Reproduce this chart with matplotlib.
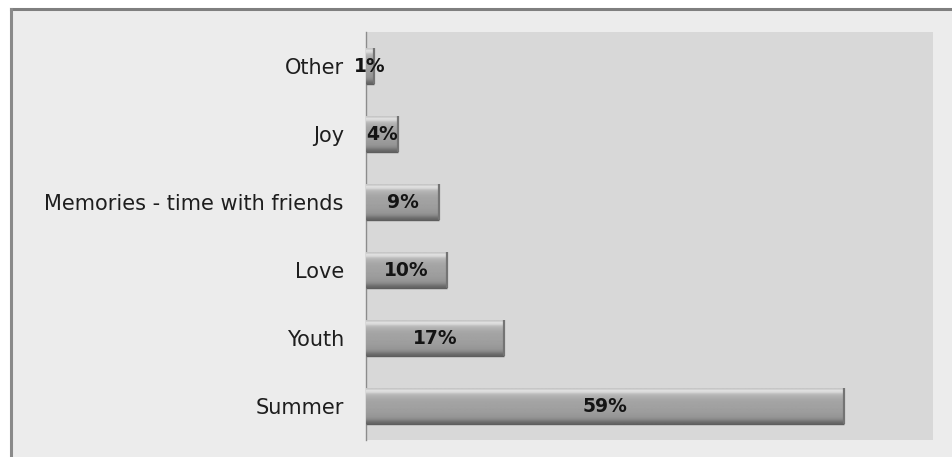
import matplotlib
matplotlib.use("Agg")
import matplotlib.pyplot as plt
import numpy as np
from matplotlib.lines import Line2D
from matplotlib.patches import Rectangle

categories = ["Summer", "Youth", "Love", "Memories - time with friends", "Joy", "Other"]
values = [59, 17, 10, 9, 4, 1]
labels = ["59%", "17%", "10%", "9%", "4%", "1%"]

W, H = 952, 457
fig = plt.figure(figsize=(W / 100, H / 100), dpi=100)
fig.patch.set_facecolor("white")

# outer frame (top and left border visible)
fig.add_artist(Rectangle((10.5 / W, 0), 1, 1 - 8.5 / H, transform=fig.transFigure,
                         facecolor="#ececec", edgecolor="none", zorder=-10))
fig.add_artist(Line2D([10.5 / W, 1], [1 - 8.5 / H, 1 - 8.5 / H], transform=fig.transFigure,
                      color="#7f7f7f", lw=2.2))
fig.add_artist(Line2D([11 / W, 11 / W], [0, 1 - 8.5 / H], transform=fig.transFigure,
                      color="#8a8a8a", lw=2.2))

left, right, top, bottom = 366, 933, 32, 440
ax = fig.add_axes([left / W, 1 - bottom / H, (right - left) / W, (bottom - top) / H])
ax.set_facecolor("#d8d8d8")

y = np.arange(len(categories))
bars = ax.barh(y, values, height=0.52, color="#9e9e9e", edgecolor="none", zorder=2)
ax.set_xlim(0, 70)
ax.set_ylim(-0.5, len(categories) - 0.5)

# bevel gradient for each bar (bottom -> top)
grad = np.array([0.40, 0.45, 0.52, 0.57, 0.59, 0.60, 0.61, 0.62, 0.62, 0.63,
                 0.63, 0.64, 0.64, 0.65, 0.66, 0.68, 0.70, 0.74, 0.84, 0.88, 0.78]).reshape(-1, 1)
for b in bars:
    x0, y0 = b.get_x(), b.get_y()
    w, h = b.get_width(), b.get_height()
    im = ax.imshow(grad, cmap="gray", vmin=0, vmax=1, aspect="auto",
                   extent=(x0, x0 + w, y0, y0 + h), origin="lower", zorder=3,
                   interpolation="bilinear")
    im.set_clip_path(b)
    ax.plot([x0 + w, x0 + w], [y0, y0 + h], color="#747474", lw=1.6, zorder=4,
            solid_capstyle="butt")
    ax.plot([x0, x0 + w], [y0, y0], color="#5e5e5e", lw=1.0, zorder=4,
            solid_capstyle="butt")

for b, lab in zip(bars, labels):
    cx = b.get_x() + b.get_width() / 2
    cy = b.get_y() + b.get_height() / 2
    ax.text(cx, cy, lab, ha="center", va="center", fontsize=13.5, fontweight="bold",
            color="#141414", zorder=5)

ax.set_yticks(y)
ax.set_yticklabels(categories, fontsize=15, color="#1e1e1e")
ax.tick_params(axis="y", length=0, pad=16)
ax.set_xticks([])
for s in ["top", "right", "bottom"]:
    ax.spines[s].set_visible(False)
ax.spines["left"].set_color("#8c8c8c")
ax.spines["left"].set_linewidth(1.0)

fig.savefig("out.png", dpi=100)
